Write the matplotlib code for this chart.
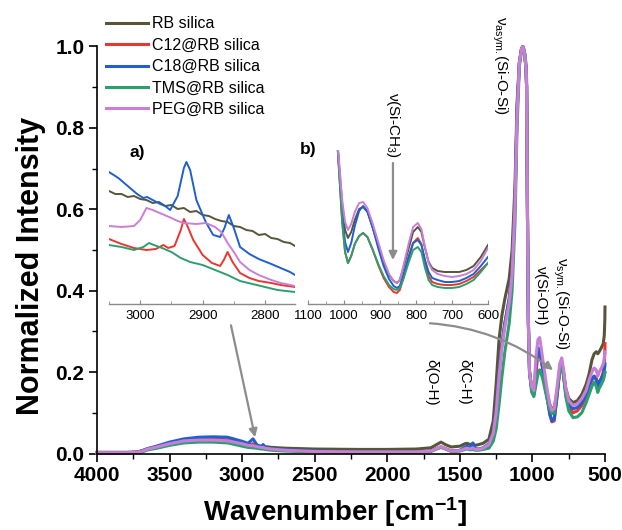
import matplotlib
matplotlib.use("Agg")
import matplotlib.pyplot as plt
from matplotlib.ticker import MultipleLocator

plt.rcParams["font.family"] = ["Liberation Sans", "DejaVu Sans"]
plt.rcParams["mathtext.fontset"] = "custom"
plt.rcParams["mathtext.rm"] = "Liberation Sans"
plt.rcParams["mathtext.it"] = "Liberation Sans:italic"
plt.rcParams["mathtext.bf"] = "Liberation Sans:bold"

W, H = 622, 530

LABELS = ["RB silica", "C12@RB silica", "C18@RB silica", "TMS@RB silica", "PEG@RB silica"]
COLORS = ["#57563a", "#e8372e", "#1f5fd0", "#2e9e70", "#c97fd6"]

# main spectrum, wavenumber in cm-1
WN_MAIN = [4000, 3800, 3720, 3680, 3650, 3600, 3500, 3400, 3300, 3200, 3100, 3000, 2960, 2925, 2900, 2870, 2855, 2840, 2800,
           2700, 2500, 2200, 2000, 1800, 1700, 1660, 1630, 1600, 1560, 1500, 1465, 1450, 1430, 1410, 1395, 1370, 1340, 1300,
           1270, 1250, 1230, 1210, 1190, 1160, 1140, 1120, 1106, 1090, 1075, 1066, 1055, 1045, 1040, 1035, 1028, 1020, 1005,
           990, 975, 962, 950, 930, 900, 880, 866, 850, 830, 812, 798, 785, 770, 750, 720, 690, 660, 630, 610, 590, 575, 560,
           550, 540, 525, 512, 505, 501, 500]

RB_MAIN = [0.003, 0.003, 0.004, 0.008, 0.012, 0.016, 0.024, 0.030, 0.033, 0.034, 0.032, 0.025, 0.022, 0.021, 0.020, 0.018, 0.018, 0.017, 0.015,
           0.013, 0.011, 0.010, 0.010, 0.011, 0.014, 0.022, 0.028, 0.022, 0.016, 0.018, 0.024, 0.025, 0.022, 0.024, 0.020, 0.022, 0.025, 0.035,
           0.08, 0.17, 0.28, 0.34, 0.38, 0.43, 0.50, 0.66, 0.86, 0.96, 0.995, 1.0, 0.985, 0.95, 0.9, 0.62, 0.32, 0.2, 0.16,
           0.15, 0.18, 0.2, 0.205, 0.19, 0.15, 0.12, 0.11, 0.113, 0.15, 0.205, 0.225, 0.2, 0.16, 0.135, 0.125, 0.13, 0.145, 0.17, 0.195, 0.23, 0.245, 0.25,
           0.245, 0.25, 0.26, 0.27, 0.29, 0.33, 0.36]
C12_MAIN = [0.002, 0.002, 0.003, 0.007, 0.011, 0.015, 0.025, 0.032, 0.035, 0.036, 0.033, 0.024, 0.020, 0.024, 0.018, 0.014, 0.016, 0.012, 0.010,
            0.008, 0.005, 0.004, 0.004, 0.004, 0.006, 0.012, 0.016, 0.012, 0.006, 0.007, 0.012, 0.014, 0.011, 0.016, 0.010, 0.010, 0.013, 0.022,
            0.05, 0.11, 0.2, 0.27, 0.32, 0.38, 0.45, 0.62, 0.84, 0.96, 0.995, 1.0, 0.985, 0.95, 0.9, 0.62, 0.32, 0.2, 0.16,
            0.145, 0.2, 0.245, 0.25, 0.21, 0.14, 0.095, 0.078, 0.08, 0.14, 0.205, 0.22, 0.19, 0.145, 0.115, 0.1, 0.105, 0.118, 0.14, 0.16, 0.18, 0.19, 0.185,
            0.17, 0.175, 0.185, 0.2, 0.22, 0.25, 0.27]
C18_MAIN = [0.002, 0.002, 0.003, 0.008, 0.012, 0.017, 0.028, 0.036, 0.040, 0.041, 0.040, 0.030, 0.025, 0.036, 0.022, 0.016, 0.022, 0.014, 0.012,
            0.009, 0.006, 0.004, 0.004, 0.004, 0.006, 0.012, 0.016, 0.012, 0.006, 0.008, 0.016, 0.018, 0.012, 0.026, 0.012, 0.011, 0.014, 0.024,
            0.05, 0.11, 0.2, 0.27, 0.32, 0.38, 0.45, 0.62, 0.84, 0.96, 0.995, 1.0, 0.985, 0.95, 0.9, 0.62, 0.32, 0.2, 0.155,
            0.145, 0.22, 0.26, 0.255, 0.21, 0.14, 0.098, 0.08, 0.085, 0.145, 0.205, 0.22, 0.19, 0.15, 0.12, 0.11, 0.113, 0.125, 0.145, 0.165, 0.185, 0.19, 0.18,
            0.165, 0.175, 0.185, 0.195, 0.205, 0.215, 0.22]
TMS_MAIN = [0.001, 0.001, 0.002, 0.005, 0.009, 0.012, 0.020, 0.026, 0.028, 0.028, 0.026, 0.018, 0.015, 0.014, 0.013, 0.011, 0.011, 0.010, 0.008,
            0.006, 0.004, 0.003, 0.003, 0.003, 0.005, 0.011, 0.015, 0.011, 0.005, 0.006, 0.010, 0.011, 0.009, 0.010, 0.008, 0.008, 0.010, 0.013,
            0.03, 0.06, 0.12, 0.19, 0.25, 0.32, 0.40, 0.57, 0.8, 0.95, 0.99, 1.0, 0.99, 0.96, 0.92, 0.66, 0.34, 0.2, 0.15,
            0.14, 0.17, 0.195, 0.205, 0.185, 0.135, 0.108, 0.098, 0.1, 0.15, 0.205, 0.22, 0.19, 0.14, 0.105, 0.088, 0.09, 0.1, 0.125, 0.145, 0.165, 0.175, 0.165,
            0.15, 0.16, 0.17, 0.18, 0.19, 0.2, 0.2]
PEG_MAIN = [0.002, 0.002, 0.003, 0.007, 0.011, 0.015, 0.024, 0.031, 0.033, 0.033, 0.031, 0.024, 0.020, 0.019, 0.017, 0.015, 0.015, 0.013, 0.011,
            0.008, 0.005, 0.004, 0.004, 0.004, 0.006, 0.012, 0.017, 0.012, 0.006, 0.007, 0.012, 0.013, 0.011, 0.014, 0.010, 0.010, 0.013, 0.022,
            0.05, 0.1, 0.19, 0.26, 0.31, 0.37, 0.44, 0.61, 0.83, 0.96, 0.995, 1.0, 0.985, 0.95, 0.9, 0.62, 0.32, 0.2, 0.165,
            0.155, 0.24, 0.28, 0.285, 0.235, 0.16, 0.12, 0.106, 0.11, 0.165, 0.22, 0.235, 0.205, 0.16, 0.13, 0.118, 0.122, 0.135, 0.155, 0.18, 0.2, 0.21, 0.205,
            0.19, 0.2, 0.21, 0.22, 0.235, 0.245, 0.25]

# inset a) C-H stretching region (arbitrary units)
WN_A_RB = [3050, 3040, 3030, 3020, 3010, 3000, 2990, 2980, 2970, 2960, 2950, 2940, 2930, 2920, 2910, 2900,
           2890, 2880, 2870, 2860, 2850, 2840, 2830, 2820, 2810, 2800, 2790, 2780, 2770, 2760, 2752]
A_RB = [1.13, 1.10, 1.10, 1.07, 1.08, 1.05, 1.04, 1.01, 1.02, 0.98, 0.99, 0.95, 0.96, 0.92, 0.93, 0.89,
        0.88, 0.85, 0.83, 0.82, 0.78, 0.77, 0.74, 0.73, 0.69, 0.70, 0.66, 0.65, 0.62, 0.61, 0.58]
WN_A_C12 = [3050, 3030, 3010, 2990, 2975, 2963, 2955, 2945, 2935, 2930, 2925, 2915, 2900, 2885, 2872, 2866,
            2860, 2852, 2840, 2825, 2810, 2790, 2775, 2752]
A_C12 = [0.65, 0.60, 0.56, 0.54, 0.55, 0.59, 0.56, 0.58, 0.74, 0.85, 0.79, 0.64, 0.49, 0.41, 0.38, 0.44,
         0.52, 0.42, 0.31, 0.26, 0.23, 0.21, 0.19, 0.17]
WN_A_C18 = [3050, 3035, 3020, 3005, 2995, 2989, 2980, 2968, 2960, 2952, 2940, 2930, 2926, 2920, 2910, 2895,
            2883, 2872, 2865, 2858, 2850, 2840, 2825, 2810, 2790, 2775, 2760, 2752]
A_C18 = [1.32, 1.26, 1.18, 1.10, 1.06, 1.07, 1.04, 1.00, 0.98, 0.94, 1.08, 1.36, 1.42, 1.34, 1.04, 0.82,
         0.69, 0.67, 0.76, 0.89, 0.76, 0.57, 0.50, 0.45, 0.40, 0.36, 0.32, 0.29]
WN_A_TMS = [3050, 3030, 3010, 2995, 2986, 2978, 2965, 2950, 2935, 2920, 2900, 2880, 2860, 2840, 2820, 2800, 2780, 2752]
A_TMS = [0.59, 0.57, 0.54, 0.57, 0.61, 0.59, 0.56, 0.52, 0.46, 0.42, 0.39, 0.34, 0.29, 0.23, 0.20, 0.17, 0.14, 0.12]
WN_A_PEG = [3050, 3030, 3010, 3000, 2990, 2980, 2965, 2950, 2940, 2930, 2910, 2895, 2880, 2870, 2860, 2850,
            2840, 2825, 2810, 2790, 2775, 2752]
A_PEG = [0.78, 0.77, 0.78, 0.84, 0.96, 0.94, 0.90, 0.86, 0.83, 0.81, 0.80, 0.81, 0.77, 0.72, 0.61, 0.52,
         0.42, 0.34, 0.29, 0.24, 0.21, 0.18]

# inset b) 1020-600 cm-1 region (arbitrary units)
WN_B = [1020, 1005, 997, 989, 980, 970, 958, 947, 935, 920, 905, 890, 875, 862, 853, 845, 835, 820, 808, 795,
        785, 775, 765, 755, 740, 720, 700, 680, 660, 640, 620, 600]
B_RB = [1.7, 0.99, 0.74, 0.66, 0.72, 0.84, 0.95, 0.97, 0.92, 0.76, 0.59, 0.42, 0.29, 0.23, 0.21, 0.24, 0.36, 0.56, 0.72, 0.77,
        0.72, 0.56, 0.42, 0.36, 0.33, 0.32, 0.32, 0.32, 0.34, 0.38, 0.47, 0.59]
B_C12 = [1.7, 0.82, 0.52, 0.41, 0.48, 0.60, 0.68, 0.71, 0.67, 0.54, 0.39, 0.26, 0.17, 0.12, 0.11, 0.14, 0.26, 0.46, 0.61, 0.66,
         0.60, 0.42, 0.28, 0.22, 0.20, 0.19, 0.19, 0.20, 0.23, 0.27, 0.34, 0.41]
B_C18 = [1.7, 0.89, 0.62, 0.52, 0.61, 0.78, 0.93, 0.98, 0.93, 0.76, 0.56, 0.38, 0.25, 0.18, 0.16, 0.18, 0.29, 0.48, 0.61, 0.64,
         0.59, 0.44, 0.32, 0.26, 0.24, 0.22, 0.22, 0.23, 0.26, 0.30, 0.38, 0.47]
B_TMS = [1.7, 0.82, 0.52, 0.41, 0.48, 0.60, 0.68, 0.71, 0.67, 0.54, 0.40, 0.28, 0.19, 0.15, 0.14, 0.16, 0.25, 0.42, 0.54, 0.57,
         0.52, 0.36, 0.24, 0.19, 0.17, 0.16, 0.16, 0.17, 0.20, 0.24, 0.32, 0.41]
B_PEG = [1.7, 1.04, 0.82, 0.74, 0.80, 0.92, 1.01, 1.02, 0.96, 0.80, 0.62, 0.44, 0.30, 0.23, 0.21, 0.24, 0.38, 0.61, 0.77, 0.81,
         0.75, 0.57, 0.41, 0.34, 0.30, 0.28, 0.27, 0.28, 0.30, 0.34, 0.43, 0.56]


def box(x0, y0, x1, y1):
  # pixel box (top-left origin) -> figure fraction rect
  return [x0 / W, 1 - y1 / H, (x1 - x0) / W, (y1 - y0) / H]


def fpt(x, y):
  return x / W, 1 - y / H


fig = plt.figure(figsize=(W / 100, H / 100), dpi=100)

ax = fig.add_axes(box(97, 46.5, 605, 453.5))
main = [RB_MAIN, C12_MAIN, C18_MAIN, TMS_MAIN, PEG_MAIN]
for vals, col, lab in zip(main, COLORS, LABELS):
  ax.plot(WN_MAIN, vals, color=col, lw=2.2, label=lab, clip_on=False,
          solid_joinstyle="round")
ax.set_xlim(4000, 500)
ax.set_ylim(0, 1.0)
ax.xaxis.set_major_locator(MultipleLocator(500))
ax.xaxis.set_minor_locator(MultipleLocator(250))
ax.yaxis.set_major_locator(MultipleLocator(0.2))
ax.yaxis.set_minor_locator(MultipleLocator(0.1))
ax.tick_params(which="major", direction="out", length=6, width=1.2, labelsize=15, pad=3)
ax.tick_params(which="minor", direction="out", length=3.5, width=1.0)
for lbl in ax.get_xticklabels() + ax.get_yticklabels():
  lbl.set_fontweight("bold")
for side in ("top", "right"):
  ax.spines[side].set_visible(False)
for side in ("left", "bottom"):
  ax.spines[side].set_linewidth(1.2)
ax.set_xlabel(r"Wavenumber [cm$^{\mathbf{-1}}$]", fontsize=20, fontweight="bold")
ax.set_ylabel("Normalized Intensity", fontsize=22, fontweight="bold")
ax.xaxis.set_label_coords(0.468, -0.103)
ax.yaxis.set_label_coords(-0.1, 0.46)

leg = ax.legend(loc="upper left", bbox_to_anchor=fpt(106, 16.5), bbox_transform=fig.transFigure,
                frameon=False, fontsize=11.5, handlelength=2.6, handletextpad=0.3,
                labelspacing=0.4, borderpad=0, borderaxespad=0)

# inset a
axa = fig.add_axes(box(109, 150, 295, 304))
axa.patch.set_alpha(0)
for vx, vy, col in zip([WN_A_RB, WN_A_C12, WN_A_C18, WN_A_TMS, WN_A_PEG],
                       [A_RB, A_C12, A_C18, A_TMS, A_PEG], COLORS):
  axa.plot(vx, vy, color=col, lw=1.4)
axa.set_xlim(3050, 2752)
axa.set_ylim(0, 1.54)
axa.xaxis.set_major_locator(MultipleLocator(100))
axa.xaxis.set_minor_locator(MultipleLocator(50))

# inset b
axb = fig.add_axes(box(308, 150, 488, 304))
axb.patch.set_alpha(0)
for vy, col in zip([B_RB, B_C12, B_C18, B_TMS, B_PEG], COLORS):
  axb.plot(WN_B, vy, color=col, lw=1.4)
axb.set_xlim(1100, 600)
axb.set_ylim(0, 1.54)
axb.xaxis.set_major_locator(MultipleLocator(100))
axb.xaxis.set_minor_locator(MultipleLocator(50))

for a in (axa, axb):
  for side in ("top", "right", "left"):
    a.spines[side].set_visible(False)
  a.spines["bottom"].set_color("#8a8a8a")
  a.spines["bottom"].set_linewidth(1.0)
  a.set_yticks([])
  a.tick_params(axis="x", which="major", direction="in", length=3, color="#8a8a8a",
                labelsize=9.5, pad=4)
  a.tick_params(axis="x", which="minor", direction="in", length=2, color="#8a8a8a")

# inset arrow for Si-CH3
axb.annotate("", xy=(864, 0.44), xytext=(864, 1.41),
             arrowprops=dict(arrowstyle="-|>", color="#8c8c8c", lw=1.6, mutation_scale=12,
                             shrinkA=0, shrinkB=0))

# arrows from insets to the main spectrum
ax.annotate("", xy=(2911, 0.04), xytext=(3077, 0.315),
            arrowprops=dict(arrowstyle="-|>", color="#8c8c8c", lw=1.6, mutation_scale=12,
                            shrinkA=0, shrinkB=0))
ax.annotate("", xy=(858, 0.205), xytext=(1706, 0.32),
            arrowprops=dict(arrowstyle="-|>", color="#8c8c8c", lw=1.6, mutation_scale=12,
                            shrinkA=0, shrinkB=0, connectionstyle="arc3,rad=-0.15"))

# labels
fig.text(*fpt(137, 153), "a)", fontsize=12.5, fontweight="bold", ha="center", va="center")
fig.text(*fpt(308, 150), "b)", fontsize=12.5, fontweight="bold", ha="center", va="center")
txt = dict(fontsize=11, rotation=270, ha="center", va="center", rotation_mode="anchor")
fig.text(*fpt(393, 125), r"ν(Si-CH$_3$)", **txt)
fig.text(*fpt(500, 65), r"ν$_{\mathrm{asym.}}$(Si-O-Si)", **txt)
fig.text(*fpt(541, 296), "ν(Si-OH)", **txt)
fig.text(*fpt(561, 303), r"ν$_{\mathrm{sym.}}$(Si-O-Si)", **txt)
fig.text(*fpt(431, 382), "δ(O-H)", **txt)
fig.text(*fpt(464, 382), "δ(C-H)", **txt)

fig.savefig("out.png", dpi=100)
